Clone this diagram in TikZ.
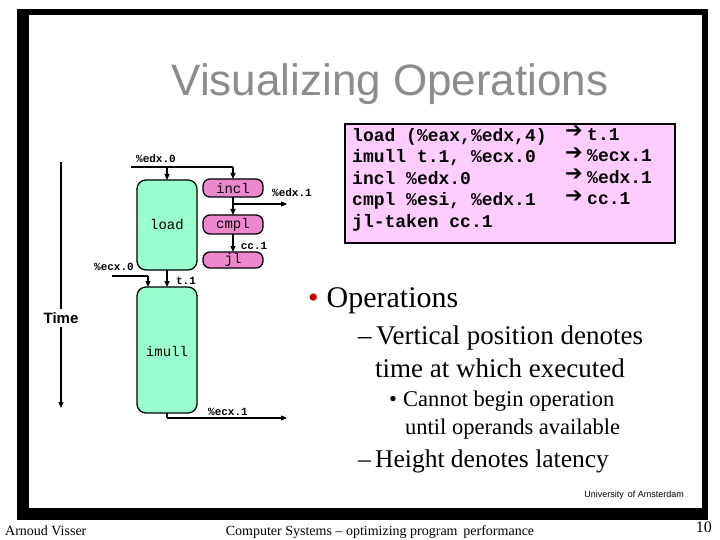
\documentclass[tikz,border=0pt]{standalone}
\usepackage{fontspec}
\setmainfont{Liberation Serif}
\setsansfont{Liberation Sans}
\setmonofont{Liberation Mono}
\newfontfamily\dvs{DejaVu Sans}
\usetikzlibrary{arrows.meta}
\definecolor{mint}{RGB}{153,255,204}
\definecolor{pinkop}{RGB}{238,136,204}
\definecolor{pinkbg}{RGB}{255,204,255}
\definecolor{titlegray}{RGB}{140,140,140}
\tikzset{
 big/.style={draw=black,line width=1.3pt,fill=mint,rounded corners=9pt},
 small/.style={draw=black,line width=1.3pt,fill=pinkop,rounded corners=7pt},
 lab/.style={font=\ttfamily\fontsize{11}{11}\selectfont\bfseries,inner sep=1pt},
 opl/.style={font=\ttfamily\fontsize{14}{14}\selectfont,inner sep=0pt},
 wire/.style={line width=1.1pt,-{Triangle[length=6pt,width=5pt]}},
 line/.style={line width=1.1pt},
 codef/.style={anchor=north west,align=left,inner sep=0pt,font=\ttfamily\bfseries\fontsize{18}{21.5}\selectfont},
}
\begin{document}
\begin{tikzpicture}[x=1pt,y=-1pt]
\useasboundingbox (0,0) rectangle (720,540);
\fill[white] (0,0) rectangle (720,540);
\fill[black] (17,9) rectangle (708,520);
\fill[white] (29,15) rectangle (702,508);
\node[font=\sffamily\fontsize{44}{44}\selectfont,text=titlegray] (title) at (390,84) {Visualizing Operations};
% boxes
\path[big] (137,180) rectangle (197,270);
\node[opl] (load) at (167,225) {load};
\path[big] (137,287) rectangle (197,413);
\node[opl] (imull) at (167,351) {imull};
\path[small] (203,179) rectangle (263,197);
\node[opl] (incl) at (233,188) {incl};
\path[small] (203,215) rectangle (263,234);
\node[opl] (cmpl) at (233,225) {cmpl};
\path[small] (203,252) rectangle (263,268);
\node[opl] (jl) at (233,260) {jl};
% coordinates
\coordinate (e0) at (131,167);
\coordinate (e0a) at (167,167);
\coordinate (e0b) at (233,167);
\coordinate (lt) at (167,180);
\coordinate (it) at (233,179);
\coordinate (ib) at (233,197);
\coordinate (e1s) at (233,204);
\coordinate (e1) at (287,204);
\coordinate (ct) at (233,215);
\coordinate (cb) at (233,234);
\coordinate (jt) at (233,252);
\coordinate (lb) at (167,270);
\coordinate (imt) at (167,287);
\coordinate (c0) at (112,276);
\coordinate (c0a) at (148,276);
\coordinate (c0t) at (148,287);
\coordinate (imb) at (167,413);
\coordinate (c1a) at (167,418);
\coordinate (c1) at (287,418);
\draw[line] (e0) -- (e0b);
\draw[wire] (e0a) -- (lt);
\draw[wire] (e0b) -- (it);
\draw[line] (ib) -- (e1s);
\draw[wire] (e1s) -- (e1);
\draw[wire] (e1s) -- (ct);
\draw[wire] (cb) -- (jt);
\draw[wire] (lb) -- (imt);
\draw[line] (c0) -- (c0a);
\draw[wire] (c0a) -- (c0t);
\draw[line] (imb) -- (c1a);
\draw[wire] (c1a) -- (c1);
\node[lab] (le0) at (156,159) {\%edx.0};
\node[lab] (le1) at (292,193) {\%edx.1};
\node[lab] (lcc) at (254,246) {cc.1};
\node[lab] (lc0) at (114,267) {\%ecx.0};
\node[lab] (lt1) at (186,281) {t.1};
\node[lab] (lc1) at (228,412) {\%ecx.1};
% time
\node[font=\sffamily\bfseries\fontsize{15}{15}\selectfont] (time) at (61,318) {Time};
\coordinate (ts) at (61,162);
\coordinate (te) at (61,408);
\draw[line] (ts) -- (time.north);
\draw[wire] (time.south) -- (te);
% code box
\fill[pinkbg,draw=black,line width=2pt] (345,124) rectangle (675,243);
\node[codef] (code) at (352,128)
{load (\%eax,\%edx,4)\\imull t.1, \%ecx.0\\incl \%edx.0\\cmpl \%esi, \%edx.1\\jl-taken cc.1};
\node[anchor=north west,align=left,inner sep=0pt,font=\dvs\bfseries\fontsize{21}{21.5}\selectfont] (arr) at (565,126)
{➔\\➔\\➔\\➔};
\node[codef] (res) at (587,128)
{t.1\\\%ecx.1\\\%edx.1\\cc.1};
% bullets
\node[anchor=west,inner sep=0pt,font=\fontsize{30}{30}\selectfont] (b1) at (308,301) {{\color{red!75!black}\textbullet}\hspace{8pt}Operations};
\node[anchor=west,inner sep=0pt,align=left,font=\fontsize{27}{33}\selectfont] (b2) at (358,352) {–\,Vertical position denotes\\\hspace{17pt}time at which executed};
\node[anchor=west,inner sep=0pt,align=left,font=\fontsize{22.5}{28}\selectfont] (b3) at (389,415) {\textbullet\hspace{6pt}Cannot begin operation\\\hspace{16pt}until operands available};
\node[anchor=west,inner sep=0pt,font=\fontsize{25.5}{25.5}\selectfont] (b4) at (358,461) {–\,Height denotes latency};
\node[anchor=east,inner sep=0pt,font=\sffamily\fontsize{9}{9}\selectfont] (uni) at (684,495) {University\, of Amsterdam};
\node[anchor=west,inner sep=0pt,font=\fontsize{14}{14}\selectfont] (auth) at (5,531) {Arnoud Visser};
\node[inner sep=0pt,font=\fontsize{14}{14}\selectfont] (foot) at (380,532) {Computer Systems – optimizing program\, performance};
\node[anchor=east,inner sep=0pt,font=\fontsize{16}{16}\selectfont] (pg) at (712,527) {10};
\end{tikzpicture}
\end{document}
